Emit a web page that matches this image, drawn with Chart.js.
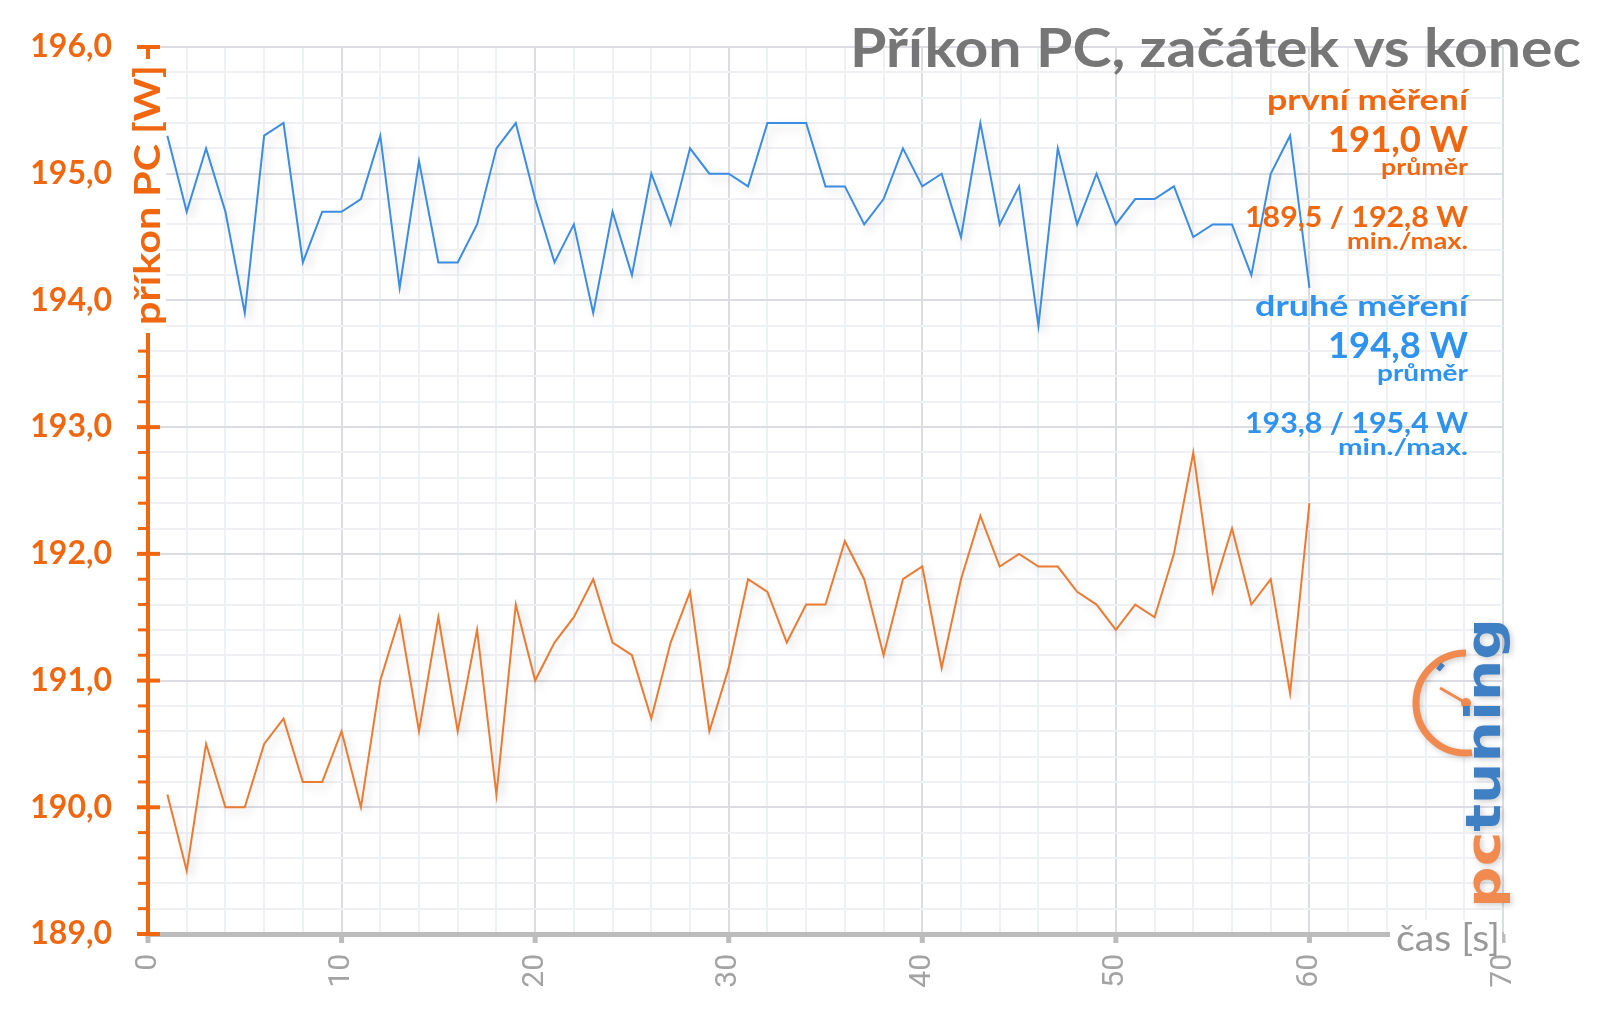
<!DOCTYPE html>
<html>
<head>
<meta charset="utf-8">
<title>Příkon PC, začátek vs konec</title>
<script src="https://cdn.jsdelivr.net/npm/chart.js@4/dist/chart.umd.min.js"></script>
<style>
  html, body { margin: 0; padding: 0; background: #fff; }
  #wrap { width: 1600px; height: 1017px; }
</style>
</head>
<body>
<div id="wrap"><canvas id="powerChart" width="1600" height="1017"></canvas></div>
<script>
// time in seconds
const seconds = [1, 2, 3, 4, 5, 6, 7, 8, 9, 10, 11, 12, 13, 14, 15, 16, 17, 18, 19, 20,
  21, 22, 23, 24, 25, 26, 27, 28, 29, 30, 31, 32, 33, 34, 35, 36, 37, 38, 39, 40,
  41, 42, 43, 44, 45, 46, 47, 48, 49, 50, 51, 52, 53, 54, 55, 56, 57, 58, 59, 60];

// první měření (W)
const firstRun = [190.1, 189.5, 190.5, 190.0, 190.0, 190.5, 190.7, 190.2, 190.2, 190.6,
  190.0, 191.0, 191.5, 190.6, 191.5, 190.6, 191.4, 190.1, 191.6, 191.0,
  191.3, 191.5, 191.8, 191.3, 191.2, 190.7, 191.3, 191.7, 190.6, 191.1,
  191.8, 191.7, 191.3, 191.6, 191.6, 192.1, 191.8, 191.2, 191.8, 191.9,
  191.1, 191.8, 192.3, 191.9, 192.0, 191.9, 191.9, 191.7, 191.6, 191.4,
  191.6, 191.5, 192.0, 192.8, 191.7, 192.2, 191.6, 191.8, 190.9, 192.4];

// druhé měření (W)
const secondRun = [195.3, 194.7, 195.2, 194.7, 193.9, 195.3, 195.4, 194.3, 194.7, 194.7,
  194.8, 195.3, 194.1, 195.1, 194.3, 194.3, 194.6, 195.2, 195.4, 194.8,
  194.3, 194.6, 193.9, 194.7, 194.2, 195.0, 194.6, 195.2, 195.0, 195.0,
  194.9, 195.4, 195.4, 195.4, 194.9, 194.9, 194.6, 194.8, 195.2, 194.9,
  195.0, 194.5, 195.4, 194.6, 194.9, 193.8, 195.2, 194.6, 195.0, 194.6,
  194.8, 194.8, 194.9, 194.5, 194.6, 194.6, 194.2, 195.0, 195.3, 194.1];

// axis ranges and labels
const yMin = 189, yMax = 196, yStep = 0.2;
const xMin = 0, xMax = 70, xStep = 2, xLabelEvery = 10;

const chartTitle = 'Příkon PC, začátek vs konec';
const yAxisTitle = 'příkon PC [W]';
const xAxisTitle = 'čas [s]';
const firstSummary = ['první měření', '191,0 W', 'průměr', '189,5 / 192,8 W', 'min./max.'];
const secondSummary = ['druhé měření', '194,8 W', 'průměr', '193,8 / 195,4 W', 'min./max.'];

const orangeText = '#f0670f';
const orangeLine = '#ec7b32';
const blueText = '#2e93ef';
const blueLine = '#3b8de3';
const titleGrey = '#767676';
const axisGrey = '#bcbcbc';
const labelGrey = '#a3a3a3';
const fontFamily = 'Lato, "Open Sans", sans-serif';

function isWhole(v) {
    return Math.abs(v - Math.round(v)) < 1e-6;
}

function toPoints(xs, ys) {
    return xs.map((x, i) => ({ x: x, y: ys[i] }));
}

// draw text stretched horizontally to a given width (font is a bit narrower than the original)
function fillFitted(ctx, text, x, y, width) {
    const w = ctx.measureText(text).width;
    ctx.save();
    ctx.translate(x, y);
    ctx.scale(width / w, 1);
    ctx.fillText(text, 0, 0);
    ctx.restore();
}

// summary block layout: baseline offset, font size and width per line
const summaryOffsets = [0, 42, 65, 117, 139];
const summarySizes = [28, 36, 23, 29, 22];
const firstWidths = [201, 140, 87, 223, 121];
const secondWidths = [213, 140, 91, 223, 130];

function drawSummary(ctx, lines, widths, color, right, top) {
    ctx.textAlign = 'right';
    ctx.textBaseline = 'alphabetic';
    ctx.fillStyle = color;
    lines.forEach((text, i) => {
        ctx.font = `bold ${summarySizes[i]}px ${fontFamily}`;
        fillFitted(ctx, text, right, top + summaryOffsets[i], widths[i]);
    });
}

function drawLogo(ctx) {
    const cx = 1466, cy = 703;
    ctx.save();
    ctx.shadowColor = 'rgba(0,0,0,0.2)';
    ctx.shadowBlur = 6;
    ctx.shadowOffsetX = 2;
    ctx.shadowOffsetY = 2;
    // clock arc
    ctx.beginPath();
    ctx.arc(cx, cy, 50, -Math.PI / 2, Math.PI / 2 - 0.12, true);
    ctx.strokeStyle = '#f08a4e';
    ctx.lineWidth = 7;
    ctx.stroke();
    ctx.beginPath();
    ctx.moveTo(cx, cy);
    ctx.lineTo(cx - 26, cy - 15);
    ctx.lineWidth = 3;
    ctx.stroke();
    ctx.beginPath();
    ctx.arc(cx, cy, 5, 0, Math.PI * 2);
    ctx.fillStyle = '#f08a4e';
    ctx.fill();
    ctx.beginPath();
    ctx.moveTo(cx - 28, cy - 33);
    ctx.lineTo(cx - 23, cy - 39);
    ctx.strokeStyle = '#3f7fc4';
    ctx.lineWidth = 5;
    ctx.stroke();
    // text
    ctx.translate(1500, 908);
    ctx.rotate(-Math.PI / 2);
    ctx.font = `bold 48px "DejaVu Sans", ${fontFamily}`;
    const full = ctx.measureText('pctuning').width;
    ctx.scale(290 / full, 1);
    ctx.textAlign = 'left';
    ctx.textBaseline = 'alphabetic';
    ctx.fillStyle = '#f08a4e';
    ctx.fillText('pc', 0, 0);
    const pcw = ctx.measureText('pc').width;
    ctx.fillStyle = '#3f7fc4';
    ctx.fillText('tuning', pcw, 0);
    ctx.restore();
}

const decorPlugin = {
    id: 'decor',
    beforeDatasetsDraw(chart) {
        const ctx = chart.ctx;
        ctx.save();
        ctx.shadowColor = 'rgba(0,0,0,0.17)';
        ctx.shadowBlur = 10;
        ctx.shadowOffsetX = 4;
        ctx.shadowOffsetY = 5;
    },
    afterDatasetsDraw(chart) {
        chart.ctx.restore();
    },
    afterDraw(chart) {
        const ctx = chart.ctx;
        const area = chart.chartArea;
        const yScale = chart.scales.y;
        const xScale = chart.scales.x;
        ctx.save();

        // x ticks (grey, below axis)
        ctx.strokeStyle = axisGrey;
        ctx.lineWidth = 5;
        xScale.ticks.forEach(t => {
            if (t.value % xLabelEvery !== 0) return;
            const px = xScale.getPixelForValue(t.value);
            ctx.beginPath();
            ctx.moveTo(px, area.bottom);
            ctx.lineTo(px, area.bottom + 9);
            ctx.stroke();
        });

        // y ticks (orange)
        ctx.strokeStyle = orangeText;
        yScale.ticks.forEach(t => {
            const py = yScale.getPixelForValue(t.value);
            const major = isWhole(t.value);
            ctx.beginPath();
            ctx.moveTo(area.left - (major ? 11 : 10), py);
            ctx.lineTo(area.left + (major ? 12 : 0), py);
            ctx.lineWidth = major ? 4 : 3;
            ctx.stroke();
        });

        // y axis title with white backing
        ctx.font = `bold 36px ${fontFamily}`;
        const titleLen = 260;
        const tcy = 195;
        ctx.fillStyle = '#fff';
        ctx.fillRect(area.left - 20, tcy - titleLen / 2 - 6, 38, titleLen + 14);
        ctx.save();
        ctx.translate(area.left + 12, tcy);
        ctx.rotate(-Math.PI / 2);
        ctx.textAlign = 'center';
        ctx.textBaseline = 'alphabetic';
        ctx.fillStyle = orangeText;
        fillFitted(ctx, yAxisTitle, 0, 0, titleLen);
        ctx.restore();

        // x axis title with white backing
        ctx.font = `36px ${fontFamily}`;
        ctx.fillStyle = '#fff';
        ctx.fillRect(1390, 920, 112, 30);
        ctx.fillStyle = '#999';
        ctx.textAlign = 'right';
        ctx.textBaseline = 'alphabetic';
        fillFitted(ctx, xAxisTitle, 1500, 951, 104);

        // chart title
        ctx.font = `bold 54px ${fontFamily}`;
        ctx.fillStyle = titleGrey;
        ctx.textAlign = 'right';
        fillFitted(ctx, chartTitle, 1581, 67, 731);

        drawSummary(ctx, firstSummary, firstWidths, orangeText, 1468, 110);
        drawSummary(ctx, secondSummary, secondWidths, blueText, 1468, 316);

        drawLogo(ctx);
        ctx.restore();
    }
};

const powerChart = new Chart(document.getElementById('powerChart').getContext('2d'), {
    type: 'line',
    data: {
        datasets: [{
            label: 'první měření',
            data: toPoints(seconds, firstRun),
            borderColor: orangeLine,
            borderWidth: 2,
            pointRadius: 0,
            tension: 0,
            fill: false
        }, {
            label: 'druhé měření',
            data: toPoints(seconds, secondRun),
            borderColor: blueLine,
            borderWidth: 2,
            pointRadius: 0,
            tension: 0,
            fill: false
        }]
    },
    options: {
        responsive: false,
        animation: false,
        layout: { padding: { top: 47, right: 97, left: 0, bottom: 0 } },
        plugins: {
            legend: { display: false },
            tooltip: { enabled: false }
        },
        scales: {
            x: {
                type: 'linear',
                min: xMin,
                max: xMax,
                afterFit: s => { s.height = 83; },
                ticks: {
                    stepSize: xStep,
                    autoSkip: false,
                    minRotation: 90,
                    maxRotation: 90,
                    padding: 20,
                    color: labelGrey,
                    font: { family: '"Liberation Sans Narrow", Roboto, sans-serif', size: 30 },
                    callback: v => (v % xLabelEvery === 0 ? String(v) : '')
                },
                grid: {
                    drawTicks: false,
                    lineWidth: 2,
                    color: c => (c.tick && c.tick.value % xLabelEvery === 0 ? '#dcdde2' : '#eef0f4')
                },
                border: { color: axisGrey, width: 5 }
            },
            y: {
                type: 'linear',
                min: yMin,
                max: yMax,
                // tick padding would otherwise push the plot area down
                afterFit: s => { s.width = 148; s.paddingTop = 0; s.paddingBottom = 0; },
                ticks: {
                    stepSize: yStep,
                    autoSkip: false,
                    padding: 36,
                    color: orangeText,
                    font: { family: fontFamily, size: 32, weight: 'bold' },
                    callback: v => (isWhole(v) ? Number(v).toFixed(1).replace('.', ',') : '')
                },
                grid: {
                    drawTicks: false,
                    lineWidth: 2,
                    color: c => (c.tick && isWhole(c.tick.value) ? '#dcdde2' : '#eef0f4')
                },
                border: { color: orangeText, width: 4 }
            }
        }
    },
    plugins: [decorPlugin]
});
</script>
</body>
</html>
